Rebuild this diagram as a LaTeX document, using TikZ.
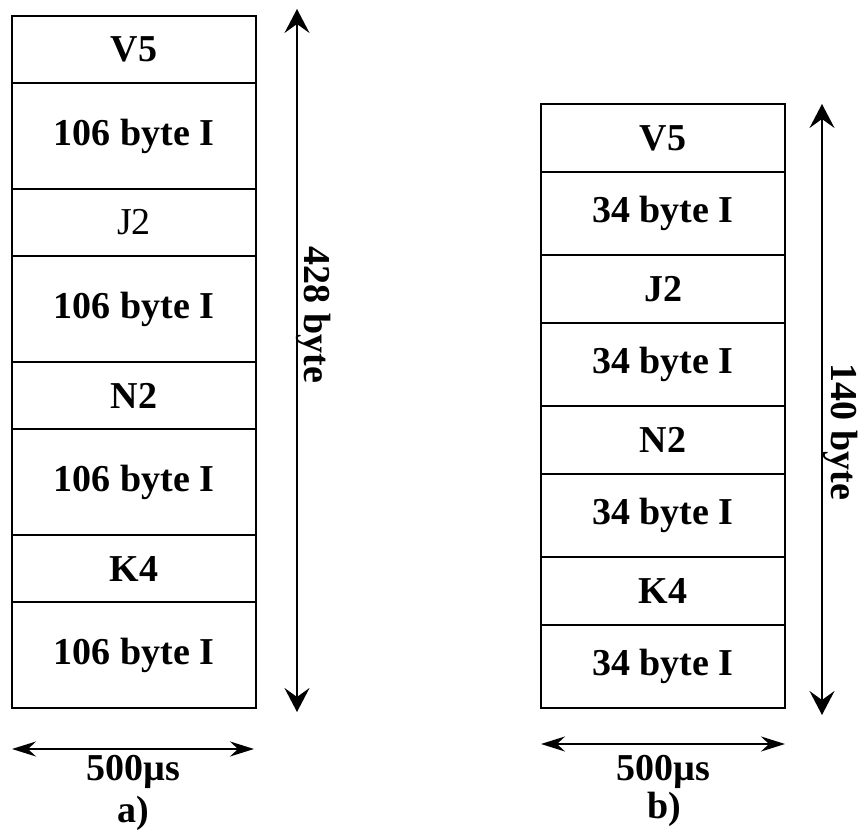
\documentclass[tikz,border=0pt]{standalone}
\usepackage{fontspec}
\setmainfont{Liberation Serif}
\usetikzlibrary{arrows.meta, positioning}

\begin{document}
\begin{tikzpicture}[
  x=0.5pt, y=-0.5pt,
  >={Stealth[length=12pt,width=12.5pt,inset=4.5pt]},
  cell/.style={draw, line width=1pt, minimum width=122pt, outer sep=0pt, inner sep=0pt,
    font=\fontsize{19}{22}\selectfont\bfseries},
  hdrcell/.style={cell, minimum height=33.5pt},
  datacell/.style={cell, minimum height=53pt},
  rhdrcell/.style={cell, minimum height=34pt},
  rdatacell/.style={cell, minimum height=41.5pt},
  vdim/.style={line width=1pt, <->},
  hdim/.style={line width=1pt,
    {Stealth[length=12pt,width=7.5pt,inset=4pt]}-{Stealth[length=12pt,width=7.5pt,inset=4pt]}},
  lbl/.style={font=\fontsize{19}{22}\selectfont\bfseries}
  ]
  \useasboundingbox (0,0) rectangle (859,834);
  % a) frame
  \node[hdrcell, anchor=north west] (a1) at (12,16) {V5};
  \node[datacell, below=0pt of a1] (a2) {106 byte I};
  \node[hdrcell, below=0pt of a2, font=\fontsize{19}{22}\selectfont] (a3) {J2};
  \node[datacell, below=0pt of a3] (a4) {106 byte I};
  \node[hdrcell, below=0pt of a4] (a5) {N2};
  \node[datacell, below=0pt of a5] (a6) {106 byte I};
  \node[hdrcell, below=0pt of a6] (a7) {K4};
  \node[datacell, below=0pt of a7] (a8) {106 byte I};
  \coordinate (atop) at (297,9);
  \coordinate (abot) at (297,712);
  \draw[vdim] (abot) -- (atop);
  \node[lbl, rotate=-90] (alen) at (314,315) {428 byte};
  \coordinate (aleft)  at (12,749);
  \coordinate (aright) at (254,749);
  \draw[hdim] (aleft) -- (aright);
  \node[lbl] (atime) at (133,772) {500µs};
  \node[lbl] (acap) at (133,813) {a)};
  % b) frame
  \node[rhdrcell, anchor=north west] (b1) at (541,104) {V5};
  \node[rdatacell, below=0pt of b1] (b2) {34 byte I};
  \node[rhdrcell, below=0pt of b2] (b3) {J2};
  \node[rdatacell, below=0pt of b3] (b4) {34 byte I};
  \node[rhdrcell, below=0pt of b4] (b5) {N2};
  \node[rdatacell, below=0pt of b5] (b6) {34 byte I};
  \node[rhdrcell, below=0pt of b6] (b7) {K4};
  \node[rdatacell, below=0pt of b7] (b8) {34 byte I};
  \coordinate (btop) at (822,104);
  \coordinate (bbot) at (822,715);
  \draw[vdim] (bbot) -- (btop);
  \node[lbl, rotate=-90] (blen) at (841,432) {140 byte};
  \coordinate (bleft)  at (541,744);
  \coordinate (bright) at (785,744);
  \draw[hdim] (bleft) -- (bright);
  \node[lbl] (btime) at (663,772) {500µs};
  \node[lbl] (bcap) at (664,809) {b)};
\end{tikzpicture}
\end{document}
